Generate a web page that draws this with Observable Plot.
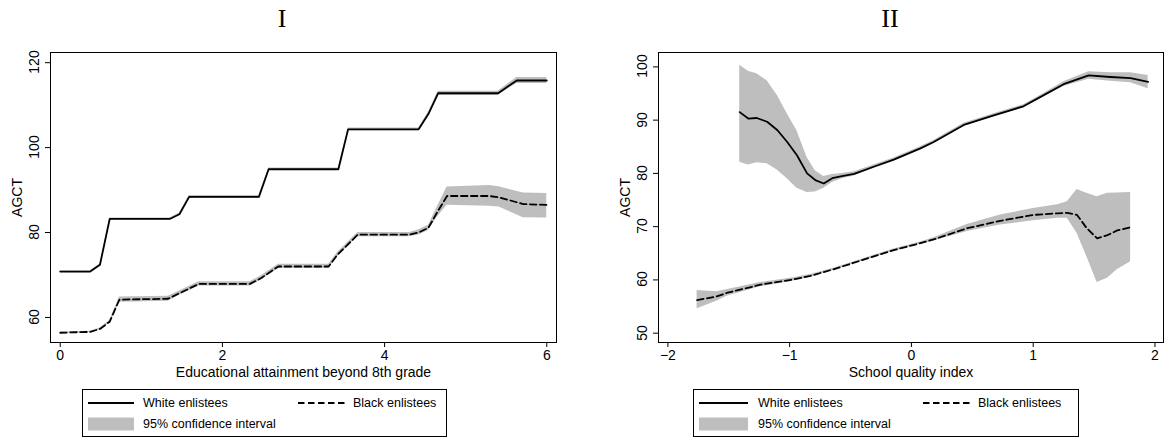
<!DOCTYPE html>
<html>
<head>
<meta charset="utf-8">
<script src="https://cdn.jsdelivr.net/npm/d3@7"></script>
<script src="https://cdn.jsdelivr.net/npm/@observablehq/plot@0.6"></script>
<style>
  body { margin: 0; background: #fff; width: 1167px; height: 437px; overflow: hidden; position: relative;
         font-family: "Liberation Sans", Arial, sans-serif; color: #000; }
  .panel { position: absolute; top: 40px; height: 340px; }
  .ytl { position: absolute; width: 40px; height: 14px; font-size: 14px; line-height: 14px; text-align: center;
         white-space: nowrap; transform: rotate(-90deg); transform-origin: 50% 50%; }
  .ttl { position: absolute; top: 6px; font-family: "Liberation Serif", "Times New Roman", serif;
         font-size: 26px; line-height: 26px; white-space: nowrap; width: 60px; text-align: center; }
  .legend { position: absolute; top: 389px; height: 48px; border: 1px solid #000; box-sizing: border-box; background: #fff; }
  .legend .item { position: absolute; font-size: 12.5px; line-height: 14px; white-space: nowrap; }
  .legend .smp { position: absolute; overflow: visible; }
</style>
</head>
<body>
<div id="left" class="panel" style="left:0px;width:600px"></div>
<div id="right" class="panel" style="left:600px;width:567px"></div>
<div class="ttl" style="left:252px">I</div>
<div class="ttl" style="left:860px">II</div>
<div id="legL" class="legend" style="left:82px;width:365px"></div>
<div id="legR" class="legend" style="left:693px;width:386px"></div>
<script>
// ---------- Panel I: Educational attainment beyond 8th grade ----------
const eduWhiteX  = [0, 0.37, 0.49, 0.61, 1.35, 1.47, 1.59, 2.45, 2.57, 3.43, 3.55, 4.42, 4.54, 4.66, 5.40, 5.52, 5.63, 6.0];
const eduWhiteY  = [70.8, 70.8, 72.4, 83.2, 83.2, 84.3, 88.4, 88.4, 94.9, 94.9, 104.3, 104.3, 107.9, 112.8, 112.8, 114.4, 115.8, 115.8];
const eduWhiteLo = [70.6, 70.6, 72.2, 83.0, 83.0, 84.0, 88.1, 88.1, 94.6, 94.6, 104.0, 104.0, 107.5, 112.3, 112.3, 113.8, 115.1, 115.1];
const eduWhiteHi = [71.0, 71.0, 72.6, 83.4, 83.4, 84.6, 88.7, 88.7, 95.2, 95.2, 104.6, 104.6, 108.3, 113.3, 113.3, 115.0, 116.5, 116.5];

const eduBlackX  = [0, 0.37, 0.49, 0.61, 0.73, 1.33, 1.47, 1.71, 2.34, 2.48, 2.69, 3.31, 3.42, 3.67, 4.31, 4.43, 4.54, 4.65, 4.77, 5.29, 5.41, 5.71, 6.0];
const eduBlackY  = [56.4, 56.6, 57.3, 59.0, 64.2, 64.4, 65.7, 67.9, 67.9, 69.3, 72.0, 72.0, 74.8, 79.5, 79.5, 80.1, 81.1, 84.8, 88.6, 88.6, 88.3, 86.7, 86.5];
const eduBlackLo = [56.25, 56.45, 57.1, 58.7, 63.6, 63.8, 65.2, 67.4, 67.4, 68.8, 71.5, 71.5, 74.3, 79.0, 79.0, 79.5, 80.5, 83.6, 86.4, 86.2, 86.0, 83.5, 83.4];
const eduBlackHi = [56.55, 56.75, 57.5, 59.3, 64.8, 65.0, 66.2, 68.4, 68.4, 69.8, 72.5, 72.5, 75.3, 80.0, 80.0, 80.7, 81.7, 86.0, 90.7, 91.1, 90.8, 89.3, 89.2];

const eduXTicks = [0, 2, 4, 6];
const eduYTicks = [60, 80, 100, 120];

// ---------- Panel II: School quality index ----------
const sqWhiteX  = [-1.41, -1.34, -1.27, -1.185, -1.10, -1.02, -0.94, -0.857, -0.79, -0.72, -0.65, -0.57, -0.47, -0.31, -0.145, 0.074, 0.183, 0.43, 0.676, 0.92, 1.087, 1.25, 1.456, 1.634, 1.80, 1.944];
const sqWhiteY  = [91.5, 90.3, 90.4, 89.7, 88.1, 85.9, 83.4, 80.0, 78.75, 78.1, 79.1, 79.5, 79.9, 81.25, 82.6, 84.7, 85.9, 89.1, 90.9, 92.6, 94.7, 96.75, 98.4, 98.1, 97.9, 97.2];
const sqWhiteLo = [82.1, 81.6, 82.0, 81.8, 80.6, 79.0, 77.2, 76.4, 76.5, 77.2, 78.3, 79.0, 79.5, 80.9, 82.3, 84.4, 85.6, 88.8, 90.6, 92.3, 94.4, 96.3, 97.7, 97.3, 97.0, 95.9];
const sqWhiteHi = [100.3, 99.2, 98.7, 97.4, 94.6, 91.2, 88.0, 83.0, 80.5, 79.4, 79.8, 80.0, 80.3, 81.6, 82.9, 85.0, 86.2, 89.4, 91.2, 92.9, 95.0, 97.2, 99.1, 98.9, 98.9, 98.4];

const sqBlackX  = [-1.76, -1.6, -1.51, -1.24, -0.967, -0.83, -0.64, -0.42, -0.145, 0.074, 0.183, 0.457, 0.73, 1.0, 1.2, 1.28, 1.36, 1.44, 1.525, 1.61, 1.69, 1.80];
const sqBlackY  = [56.2, 56.9, 57.6, 59.1, 60.1, 60.75, 62.0, 63.6, 65.6, 66.9, 67.6, 69.7, 71.1, 72.2, 72.5, 72.6, 72.2, 69.7, 67.8, 68.4, 69.3, 69.9];
const sqBlackLo = [54.6, 56.0, 57.0, 58.7, 59.8, 60.5, 61.8, 63.4, 65.4, 66.7, 67.3, 69.1, 70.3, 71.1, 71.6, 71.6, 68.75, 64.4, 59.5, 60.3, 61.9, 63.4];
const sqBlackHi = [58.0, 57.8, 58.2, 59.5, 60.4, 61.0, 62.2, 63.8, 65.8, 67.1, 67.9, 70.4, 72.2, 73.4, 74.1, 74.7, 77.0, 76.25, 75.6, 76.25, 76.3, 76.4];

const sqXTicks = [-2, -1, 0, 1, 2];
const sqYTicks = [50, 60, 70, 80, 90, 100];

const toRows = (xs, ys, lo, hi) => xs.map((x, i) => ({x, y: ys[i], lo: lo[i], hi: hi[i]}));

const BAND = "#bebebe";
const DASH = "6.5,3.5";
const LW = 1.8;
const fmt = d3.format("d");
const plotStyle = {fontFamily: '"Liberation Sans", Arial, sans-serif', fontSize: "14px", color: "black", background: "white", overflow: "visible"};

function makePanel(containerId, cfg) {
  const [w, b] = cfg.data;
  const p = Plot.plot({
    width: cfg.width, height: 340, marginLeft: cfg.marginLeft, marginRight: cfg.marginRight, marginTop: 12, marginBottom: 38,
    style: plotStyle,
    x: {domain: cfg.xDomain},
    y: {domain: cfg.yDomain},
    marks: [
      Plot.areaY(w, {x: "x", y1: "lo", y2: "hi", fill: BAND}),
      Plot.areaY(b, {x: "x", y1: "lo", y2: "hi", fill: BAND}),
      Plot.line(w, {x: "x", y: "y", stroke: "black", strokeWidth: LW}),
      Plot.line(b, {x: "x", y: "y", stroke: "black", strokeWidth: LW, strokeDasharray: DASH}),
      Plot.frame({stroke: "black", strokeWidth: 1}),
      Plot.axisX({ticks: cfg.xTicks, tickFormat: fmt, tickSize: 5, tickPadding: 3, label: cfg.xLabel, labelAnchor: "center", labelArrow: "none", labelOffset: 34}),
      Plot.axisY({ticks: cfg.yTicks, tickFormat: () => "", tickSize: 5, label: "AGCT", labelAnchor: "center", labelArrow: "none", labelOffset: 38})
    ]
  });
  const host = document.getElementById(containerId);
  host.append(p);
  // rotated y tick labels (reading upward), placed with Plot's own y scale
  const ys = p.scale("y");
  const cx = cfg.marginLeft - 16.5;
  cfg.yTicks.forEach((v) => {
    const d = document.createElement("div");
    d.className = "ytl";
    d.textContent = fmt(v);
    d.style.left = (cx - 20) + "px";
    d.style.top = (ys.apply(v) - 7) + "px";
    host.append(d);
  });
}

makePanel("left", {
  data: [toRows(eduWhiteX, eduWhiteY, eduWhiteLo, eduWhiteHi), toRows(eduBlackX, eduBlackY, eduBlackLo, eduBlackHi)],
  xDomain: [-0.12, 6.12], yDomain: [54.1, 122.4], xTicks: eduXTicks, yTicks: eduYTicks,
  xLabel: "Educational attainment beyond 8th grade", width: 600, marginLeft: 50, marginRight: 44
});
makePanel("right", {
  data: [toRows(sqWhiteX, sqWhiteY, sqWhiteLo, sqWhiteHi), toRows(sqBlackX, sqBlackY, sqBlackLo, sqBlackHi)],
  xDomain: [-2.077, 2.07], yDomain: [48.25, 102.7], xTicks: sqXTicks, yTicks: sqYTicks,
  xLabel: "School quality index", width: 567, marginLeft: 58, marginRight: 4
});

// ---------- Legends ----------
const legendLabels = ["White enlistees", "Black enlistees", "95% confidence interval"];
function buildLegend(id, boxLeft, pos) {
  const el = document.getElementById(id);
  const ox = boxLeft + 1, oy = 390;
  const ns = "http://www.w3.org/2000/svg";
  function addSample(x0, x1, y, kind) {
    const s = document.createElementNS(ns, "svg");
    s.setAttribute("class", "smp");
    s.setAttribute("width", x1 - x0); s.setAttribute("height", 14);
    s.style.left = (x0 - ox) + "px"; s.style.top = (y - 7 - oy) + "px";
    if (kind === "band") {
      const r = document.createElementNS(ns, "rect");
      r.setAttribute("x", 0); r.setAttribute("y", 0.5); r.setAttribute("width", x1 - x0); r.setAttribute("height", 13);
      r.setAttribute("fill", BAND); s.append(r);
    } else {
      const l = document.createElementNS(ns, "line");
      l.setAttribute("x1", 0); l.setAttribute("x2", x1 - x0); l.setAttribute("y1", 7); l.setAttribute("y2", 7);
      l.setAttribute("stroke", "black"); l.setAttribute("stroke-width", LW);
      if (kind === "dash") l.setAttribute("stroke-dasharray", DASH);
      s.append(l);
    }
    el.append(s);
  }
  function addText(x, y, t) {
    const d = document.createElement("div");
    d.className = "item"; d.textContent = t;
    d.style.left = (x - ox) + "px"; d.style.top = (y - 7 - oy) + "px";
    el.append(d);
  }
  addSample(pos.s1, pos.s1e, 403, "solid"); addText(pos.t1, 403, legendLabels[0]);
  addSample(pos.s2, pos.s2e, 403, "dash");  addText(pos.t2, 403, legendLabels[1]);
  addSample(pos.s1, pos.s1e, 423.5, "band"); addText(pos.t1, 424, legendLabels[2]);
}
buildLegend("legL", 82, {s1: 88, s1e: 134, t1: 143, s2: 298, s2e: 345, t2: 353});
buildLegend("legR", 693, {s1: 699, s1e: 748, t1: 758, s2: 923, s2e: 970, t2: 978});
</script>
</body>
</html>
